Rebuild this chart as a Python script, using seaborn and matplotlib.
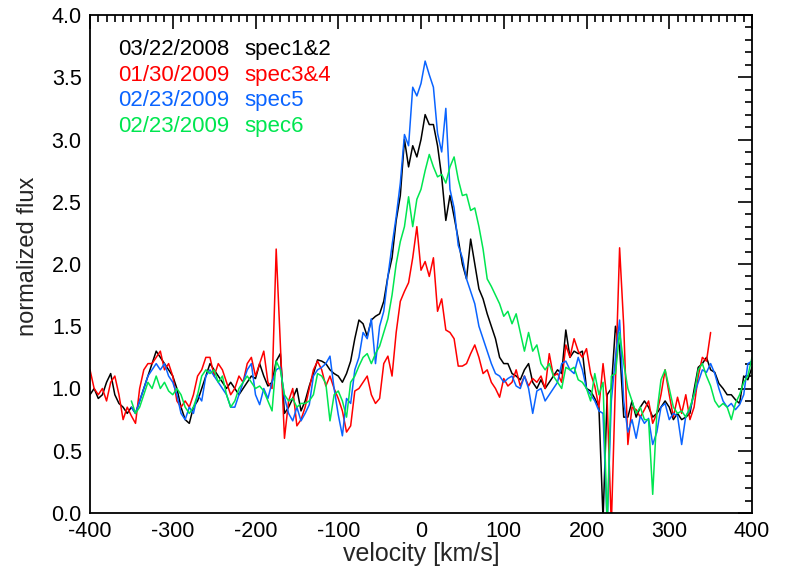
import numpy as np
import pandas as pd
import matplotlib
matplotlib.use("Agg")
import matplotlib.pyplot as plt
from matplotlib.ticker import MultipleLocator
import seaborn as sns

STEP = 5  # km/s sampling of the values below

spec12_start = -400
spec12 = [0.95, 1.0, 0.92, 0.95, 1.05, 1.12, 0.95, 0.88, 0.85, 0.8,
          0.85, 0.8, 0.9, 1.0, 1.1, 1.2, 1.3, 1.25, 1.2, 1.15,
          1.1, 1.0, 0.85, 0.75, 0.72, 0.85, 0.9, 1.0, 1.1, 1.2,
          1.15, 1.1, 1.05, 1.0, 1.05, 1.0, 0.95, 1.0, 1.05, 1.1,
          1.08, 1.2, 1.1, 1.02, 1.05, 1.22, 1.28, 0.8, 0.85, 0.92,
          1.0, 0.82, 0.9, 1.02, 1.12, 1.23, 1.22, 1.2, 1.15, 1.12,
          1.1, 1.05, 1.12, 1.22, 1.4, 1.55, 1.52, 1.42, 1.55, 1.58,
          1.6, 1.7, 1.9, 2.05, 2.35, 2.55, 3.0, 2.78, 2.95, 2.86,
          3.0, 3.2, 3.12, 3.12, 2.95, 2.7, 2.35, 2.55, 2.38, 2.2,
          2.0, 1.88, 2.2, 2.0, 1.8, 1.72, 1.6, 1.5, 1.4, 1.25,
          1.2, 1.2, 1.12, 1.1, 1.07, 1.15, 1.2, 1.05, 1.0, 1.07,
          1.0, 1.05, 1.1, 1.15, 1.12, 1.47, 1.25, 1.3, 1.28, 1.3,
          1.0, 0.98, 0.92, 0.85, -0.05, 0.95, 1.0, 1.5, 1.33, 0.77,
          0.77, 0.9, 0.77, 0.85, 0.9, 0.85, 0.77, 0.8, 0.85, 0.9,
          0.85, 0.75, 0.8, 0.75, 0.77, 0.8, 0.99, 1.17, 1.2, 1.25,
          1.15, 1.13, 1.04, 1.0, 0.95, 0.95, 0.91, 0.88, 1.1, 1.07,
          1.17]

spec34_start = -400
spec34 = [1.15, 1.0, 0.95, 1.0, 0.9, 1.05, 1.1, 0.95, 0.75, 0.85,
          0.78, 0.72, 1.0, 1.15, 1.2, 1.2, 1.25, 1.3, 1.15, 1.2,
          1.1, 0.9, 0.85, 0.9, 0.85, 0.95, 1.1, 1.15, 1.25, 1.25,
          1.1, 1.2, 1.15, 1.05, 0.95, 1.0, 1.1, 1.05, 1.2, 1.25,
          1.1, 1.2, 1.3, 1.05, 1.0, 2.12, 1.35, 0.6, 0.9, 1.0,
          0.7, 0.75, 0.85, 1.0, 1.15, 1.22, 1.15, 1.02, 1.1, 1.0,
          0.92, 0.82, 0.65, 0.7, 0.98, 1.0, 1.05, 1.1, 0.95, 0.88,
          0.92, 1.2, 1.26, 1.1, 1.45, 1.7, 1.78, 1.85, 2.05, 2.3,
          1.95, 2.02, 1.9, 2.05, 1.62, 1.72, 1.47, 1.45, 1.4, 1.18,
          1.18, 1.2, 1.28, 1.35, 1.25, 1.12, 1.15, 1.05, 1.0, 0.93,
          1.08, 1.02, 1.05, 1.15, 1.02, 1.1, 1.02, 1.08, 1.05, 1.1,
          1.0, 1.28, 1.1, 1.12, 1.05, 1.35, 1.25, 1.4, 1.3, 1.25,
          1.32, 1.12, 1.02, 0.85, 1.2, 0.9, -0.1, 1.05, 2.13, 1.5,
          0.55, 0.85, 0.83, 0.77, 0.83, 0.9, 0.72, 0.8, 0.95, 1.15,
          0.95, 0.77, 0.93, 0.8, 0.95, 0.75, 0.85, 1.1, 1.25, 1.22,
          1.45]

spec5_start = -350
spec5 = [0.85, 0.8, 0.9, 1.0, 1.1, 1.15, 1.2, 1.15, 1.2, 1.1,
         1.05, 0.95, 0.8, 0.75, 0.85, 0.8, 0.95, 0.9, 1.1, 1.15,
         1.1, 1.05, 1.0, 0.95, 0.85, 0.85, 0.95, 1.05, 1.15, 1.2,
         0.95, 0.87, 1.0, 0.92, 1.05, 1.15, 1.17, 0.93, 0.8, 0.74,
         0.85, 0.74, 0.8, 0.87, 1.1, 1.15, 1.17, 1.2, 1.26, 1.0,
         0.79, 0.62, 0.92, 0.88, 1.15, 1.25, 1.45, 1.4, 1.56, 1.2,
         1.5, 1.62, 1.9, 2.15, 2.38, 2.65, 3.04, 2.95, 3.42, 3.35,
         3.45, 3.63, 3.52, 3.42, 3.05, 2.9, 3.25, 2.6, 2.45, 2.15,
         2.05, 1.88, 1.78, 1.68, 1.5, 1.4, 1.3, 1.2, 1.12, 1.1,
         1.05, 1.08, 1.1, 1.02, 1.0, 1.1, 1.0, 0.8, 0.98, 1.0,
         0.9, 0.95, 1.0, 1.05, 1.2, 1.22, 1.15, 1.12, 1.25, 1.15,
         1.0, 0.95, 0.9, 0.82, 0.8, -0.1, 0.9, 1.25, 1.55, 0.9,
         0.65, 0.75, 0.6, 0.78, 0.72, 0.76, 0.55, 0.65, 0.85, 0.88,
         0.75, 0.8, 0.78, 0.55, 0.78, 0.83, 0.95, 1.05, 1.15, 1.13,
         1.2, 1.12, 1.0, 0.9, 0.85, 0.88, 0.83, 0.87, 0.95, 1.2,
         1.22]

spec6_start = -350
spec6 = [0.9, 0.8, 0.85, 0.95, 1.05, 1.0, 1.1, 1.0, 1.05, 0.98,
         0.95, 1.0, 0.95, 0.85, 0.8, 0.85, 0.95, 1.1, 1.15, 1.12,
         1.15, 1.05, 1.1, 0.95, 0.85, 0.9, 1.0, 1.05, 1.1, 1.05,
         1.0, 1.02, 0.98, 0.9, 0.82, 1.22, 1.15, 0.95, 0.9, 0.92,
         0.85, 0.88, 0.88, 0.9, 0.95, 1.12, 1.1, 1.04, 0.74, 0.95,
         0.98, 0.9, 0.77, 1.05, 1.1, 1.18, 1.25, 1.28, 1.2, 1.28,
         1.34, 1.45, 1.56, 1.75, 2.0, 2.18, 2.3, 2.54, 2.3, 2.52,
         2.6, 2.75, 2.88, 2.78, 2.7, 2.72, 2.65, 2.78, 2.86, 2.68,
         2.55, 2.56, 2.43, 2.45, 2.3, 2.12, 1.88, 1.82, 1.75, 1.68,
         1.58, 1.62, 1.52, 1.6, 1.45, 1.3, 1.45, 1.3, 1.35, 1.2,
         1.15, 1.2, 1.1, 1.05, 1.0, 1.17, 1.15, 1.17, 1.07, 1.05,
         1.0, 0.9, 1.12, 0.95, 1.05, -0.1, 1.1, 1.12, 1.45, 1.2,
         1.0, 0.9, 0.8, 0.85, 0.75, 0.75, 0.15, 0.8, 1.07, 1.15,
         1.0, 0.85, 0.8, 0.82, 0.77, 0.85, 0.95, 1.15, 1.2, 1.1,
         1.02, 0.9, 0.85, 0.88, 0.85, 0.75, 0.88, 0.95, 1.05, 1.1,
         1.25]

dates = ["03/22/2008", "01/30/2009", "02/23/2009", "02/23/2009"]
names = ["spec1&2", "spec3&4", "spec5", "spec6"]
colors = ["#000000", "#ff0000", "#0a64ff", "#00e650"]

series = [(spec12_start, spec12), (spec34_start, spec34),
          (spec5_start, spec5), (spec6_start, spec6)]

sns.set_style("white")
plt.rcParams["font.family"] = ["Liberation Sans", "DejaVu Sans"]
plt.rcParams["font.size"] = 15
plt.rcParams["axes.unicode_minus"] = False

fig = plt.figure(figsize=(7.89, 5.83), dpi=100)
ax = fig.add_axes([90 / 789, 1 - 513 / 583, (752 - 90) / 789, (513 - 15) / 583])

for (start, vals), col in zip(series, colors):
    vel = start + STEP * np.arange(len(vals))
    df = pd.DataFrame({"velocity": vel, "flux": vals})
    sns.lineplot(data=df, x="velocity", y="flux", color=col, lw=1.1,
                 estimator=None, sort=False, ax=ax)

ax.set_xlim(-400, 400)
ax.set_ylim(0, 4)
ax.xaxis.set_major_locator(MultipleLocator(100))
ax.xaxis.set_minor_locator(MultipleLocator(10))
ax.yaxis.set_major_locator(MultipleLocator(0.5))
ax.yaxis.set_minor_locator(MultipleLocator(0.1))
ax.yaxis.set_major_formatter(matplotlib.ticker.FormatStrFormatter("%.1f"))
ax.tick_params(which="both", direction="in", top=True, right=True,
               colors="black", width=1.2)
ax.tick_params(which="major", length=10, labelsize=15.5, pad=6)
ax.tick_params(which="minor", length=5)
for s in ax.spines.values():
    s.set_color("black")
    s.set_linewidth(1.3)
ax.set_xlabel("velocity [km/s]", fontsize=18, labelpad=0)
ax.set_ylabel("normalized flux", fontsize=17)
ax.yaxis.set_label_coords(-0.077, 0.515)

for i, (d, n, c) in enumerate(zip(dates, names, colors)):
    y = 3.72 - i * 0.205
    ax.text(-366, y, d, color=c, fontsize=16, va="center", ha="left")
    ax.text(-214, y, n, color=c, fontsize=16, va="center", ha="left")

fig.savefig("out.png", dpi=100)
